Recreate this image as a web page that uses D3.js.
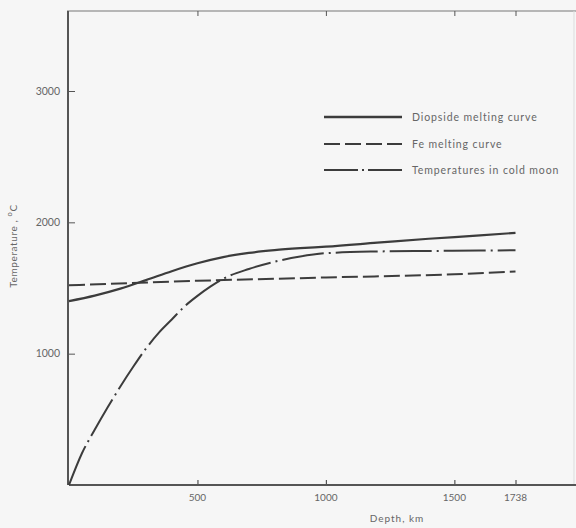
<!DOCTYPE html>
<html>
<head>
<meta charset="utf-8">
<style>
  body { margin: 0; background: #f6f6f6; }
  svg { display: block; background: #f6f6f6; }
  text { font-family: "Lato", "Open Sans", sans-serif; fill: #666; }
  .axis line, .axis path { stroke: #555; fill: none; }
</style>
<script src="https://d3js.org/d3.v7.min.js"></script>
</head>
<body>
<svg id="chart"></svg>
<script>
// depth in km, temperature in degrees C
var diopsideDepth = [0, 100, 200, 300, 400, 500, 600, 700, 800, 900, 1000, 1200, 1400, 1600, 1738];
var diopsideTemp  = [1400, 1442, 1495, 1560, 1628, 1688, 1735, 1767, 1788, 1803, 1815, 1845, 1875, 1900, 1920];

var feDepth = [0, 500, 1000, 1500, 1738];
var feTemp  = [1520, 1555, 1580, 1605, 1625];

var moonDepth = [0, 50, 100, 150, 200, 250, 300, 350, 400, 450, 500, 550, 600, 700, 800, 900, 1000, 1200, 1400, 1600, 1738];
var moonTemp  = [0, 240, 420, 590, 750, 900, 1040, 1160, 1260, 1360, 1440, 1510, 1570, 1645, 1700, 1740, 1765, 1778, 1782, 1785, 1788];

var xTicks = [500, 1000, 1500, 1738];
var yTicks = [1000, 2000, 3000];

var legendNames = ["Diopside melting curve", "Fe melting curve", "Temperatures in cold moon"];
var dashes = [null, "16,5", "42,5,2,5"];

var W = 576, H = 528;
var svg = d3.select("#chart").attr("width", W).attr("height", H);

var x = d3.scaleLinear().domain([0, 1738]).range([69, 515.5]);
var y = d3.scaleLinear().domain([0, 3000]).range([485, 91]);

var x0 = x(0), y0 = y(0), yTop = 11, xRight = 574;

// frame: top and faint right side
svg.append("line").attr("x1", x0 - 2).attr("x2", 576).attr("y1", yTop).attr("y2", yTop)
  .attr("stroke", "#777").attr("stroke-width", 1.2);
svg.append("line").attr("x1", xRight).attr("x2", xRight).attr("y1", yTop).attr("y2", y0)
  .attr("stroke", "#ddd").attr("stroke-width", 1);

// bottom axis
var xAxis = svg.append("g").attr("class", "axis")
  .attr("transform", "translate(0," + y0 + ")")
  .call(d3.axisTop(x).tickValues(xTicks).tickSize(5).tickFormat(""));
xAxis.select(".domain").remove();
xAxis.selectAll("line").attr("stroke-width", 1.2);
svg.append("line").attr("x1", x0).attr("x2", 576).attr("y1", y0).attr("y2", y0)
  .attr("stroke", "#555").attr("stroke-width", 2);
svg.selectAll(".xlab").data(xTicks).enter().append("text")
  .attr("x", function(d) { return x(d); })
  .attr("y", y0 + 16)
  .attr("text-anchor", "middle")
  .style("font-size", "10px")
  .text(function(d) { return d; });

// top ticks
var tAxis = svg.append("g").attr("class", "axis")
  .attr("transform", "translate(0," + yTop + ")")
  .call(d3.axisBottom(x).tickValues(xTicks).tickSize(5).tickFormat(""));
tAxis.select(".domain").remove();

// left axis
var yAxis = svg.append("g").attr("class", "axis")
  .attr("transform", "translate(" + x0 + ",0)")
  .call(d3.axisRight(y).tickValues(yTicks).tickSize(6).tickFormat(""));
yAxis.select(".domain").remove();
svg.append("line").attr("x1", x0 - 1).attr("x2", x0 - 1).attr("y1", yTop).attr("y2", y0)
  .attr("stroke", "#555").attr("stroke-width", 2);
svg.selectAll(".ylab").data(yTicks).enter().append("text")
  .attr("x", x0 - 9)
  .attr("y", function(d) { return y(d) + 3.5; })
  .attr("text-anchor", "end")
  .style("font-size", "10.5px")
  .text(function(d) { return d; });

// axis titles
svg.append("text").attr("x", 397).attr("y", 522).attr("text-anchor", "middle")
  .style("font-size", "10px").style("letter-spacing", "1px")
  .text("Depth, km");
var yt = svg.append("text").attr("transform", "translate(17,246) rotate(-90)")
  .attr("text-anchor", "middle").style("font-size", "10px").style("letter-spacing", "0.6px");
yt.append("tspan").text("Temperature ,  ");
yt.append("tspan").attr("dy", -5).style("font-size", "7.5px").text("o");
yt.append("tspan").attr("dy", 5).text("C");

// curves
var series = [
  d3.zip(diopsideDepth, diopsideTemp),
  d3.zip(feDepth, feTemp),
  d3.zip(moonDepth, moonTemp)
];
var line = d3.line()
  .x(function(d) { return x(d[0]); })
  .y(function(d) { return y(d[1]); })
  .curve(d3.curveMonotoneX);

svg.selectAll(".curve").data(series).enter().append("path")
  .attr("class", "curve")
  .attr("d", line)
  .attr("fill", "none")
  .attr("stroke", "#3c3c3c")
  .attr("stroke-width", function(d, i) { return i === 0 ? 2.2 : 2; })
  .attr("stroke-dasharray", function(d, i) { return dashes[i]; });

// legend
var lg = svg.append("g");
var ly = [117, 144, 170];
var legendDash = [null, "16,5", "34,4,2,4"];
legendNames.forEach(function(name, i) {
  lg.append("line").attr("x1", 324).attr("x2", 402).attr("y1", ly[i]).attr("y2", ly[i])
    .attr("stroke", "#3c3c3c").attr("stroke-width", i === 0 ? 2.6 : 2)
    .attr("stroke-dasharray", legendDash[i]);
  lg.append("text").attr("x", 412).attr("y", ly[i] + 3.5)
    .style("font-size", "10.5px").style("letter-spacing", "0.9px")
    .text(name);
});
</script>
</body>
</html>
